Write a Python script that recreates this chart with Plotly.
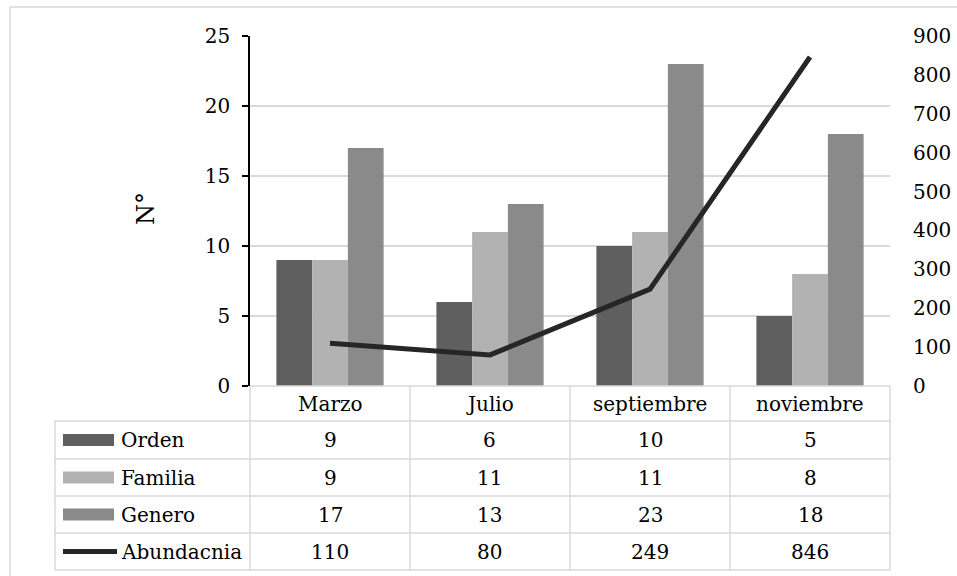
import plotly.graph_objects as go

# Monthly survey counts
months = ["Marzo", "Julio", "septiembre", "noviembre"]
orden = [9, 6, 10, 5]
familia = [9, 11, 11, 8]
genero = [17, 13, 23, 18]
abundancia = [110, 80, 249, 846]

series_names = ["Orden", "Familia", "Genero", "Abundacnia"]
bar_colors = ["#5f5f5f", "#b2b2b2", "#8a8a8a"]
line_color = "#262626"

W, H = 957, 576
FONT = "DejaVu Serif"
FS = 20
GRID = "#d9d9d9"


def px(x):
    return x / W


def py(y):
    return 1 - y / H


# plot area in pixels
PL, PR, PT, PB = 250, 890, 36, 386

fig = go.Figure()
for name, vals, col in zip(series_names[:3], [orden, familia, genero], bar_colors):
    fig.add_trace(go.Bar(x=months, y=vals, name=name, marker_color=col,
                         marker_line_width=0, yaxis="y"))
fig.add_trace(go.Scatter(x=months, y=abundancia, name=series_names[3], mode="lines",
                         line=dict(color=line_color, width=5), yaxis="y2"))

shapes = []
annotations = []

# outer chart frame
shapes.append(dict(type="rect", xref="paper", yref="paper",
                   x0=px(10), x1=px(962), y0=py(7), y1=py(580),
                   line=dict(color=GRID, width=1.5), layer="below"))

# data table below the axis
col_edges = [55, 250, 410, 570, 730, 890]
row_edges = [386, 421, 459, 496, 533, 570]


def hline(x0, x1, y):
    shapes.append(dict(type="line", xref="paper", yref="paper",
                       x0=px(x0), x1=px(x1), y0=py(y), y1=py(y),
                       line=dict(color=GRID, width=1.5)))


def vline(x, y0, y1):
    shapes.append(dict(type="line", xref="paper", yref="paper",
                       x0=px(x), x1=px(x), y0=py(y0), y1=py(y1),
                       line=dict(color=GRID, width=1.5)))


hline(col_edges[1], col_edges[-1], row_edges[0])
for y in row_edges[1:]:
    hline(col_edges[0], col_edges[-1], y)
for x in col_edges[1:]:
    vline(x, row_edges[0], row_edges[-1])
vline(col_edges[0], row_edges[1], row_edges[-1])

# header row with month names
for i, m in enumerate(months):
    cx = (col_edges[i + 1] + col_edges[i + 2]) / 2
    cy = (row_edges[0] + row_edges[1]) / 2
    annotations.append(dict(x=px(cx), y=py(cy), xref="paper", yref="paper", text=m,
                            showarrow=False, xanchor="center", yanchor="middle",
                            font=dict(family=FONT, size=FS, color="#000")))

# value rows with legend keys
rows = [orden, familia, genero, abundancia]
for r, (name, vals) in enumerate(zip(series_names, rows)):
    y0, y1 = row_edges[r + 1], row_edges[r + 2]
    cy = (y0 + y1) / 2
    if r < 3:
        shapes.append(dict(type="rect", xref="paper", yref="paper",
                           x0=px(63), x1=px(114), y0=py(cy - 6), y1=py(cy + 6),
                           fillcolor=bar_colors[r], line=dict(width=0)))
    else:
        shapes.append(dict(type="line", xref="paper", yref="paper",
                           x0=px(63), x1=px(117), y0=py(cy), y1=py(cy),
                           line=dict(color=line_color, width=5)))
    annotations.append(dict(x=px(119), y=py(cy), xref="paper", yref="paper", text=name,
                            showarrow=False, xanchor="left", yanchor="middle",
                            font=dict(family=FONT, size=FS, color="#000")))
    for i, v in enumerate(vals):
        cx = (col_edges[i + 1] + col_edges[i + 2]) / 2
        annotations.append(dict(x=px(cx), y=py(cy), xref="paper", yref="paper", text=str(v),
                                showarrow=False, xanchor="center", yanchor="middle",
                                font=dict(family=FONT, size=FS, color="#000")))

# left axis title
annotations.append(dict(x=px(146), y=py(209), xref="paper", yref="paper", text="N°",
                        showarrow=False, textangle=-90, xanchor="center", yanchor="middle",
                        font=dict(family=FONT, size=24, color="#000")))

fig.update_layout(
    width=W, height=H,
    margin=dict(l=0, r=0, t=0, b=0, autoexpand=False),
    paper_bgcolor="white", plot_bgcolor="white",
    showlegend=False,
    barmode="group", bargap=0.33, bargroupgap=0,
    font=dict(family=FONT, size=FS, color="#000"),
    xaxis=dict(domain=[px(PL), px(PR)], type="category", range=[-0.5, 3.5],
               showticklabels=False, showgrid=False, zeroline=False, showline=False,
               anchor="y"),
    yaxis=dict(domain=[py(PB), py(PT)], range=[0, 25], dtick=5,
               showgrid=True, gridcolor=GRID, gridwidth=1.5, zeroline=False,
               showline=True, linecolor="#000", linewidth=1.5,
               ticks="outside", ticklen=6, tickcolor="#000", tickwidth=1.5,
               ticklabelstandoff=8, tickfont=dict(family=FONT, size=FS)),
    yaxis2=dict(overlaying="y", side="right", anchor="x", range=[0, 900], dtick=100,
                showgrid=False, zeroline=False, showline=False, ticks="",
                ticklabelstandoff=22, tickfont=dict(family=FONT, size=FS)),
    shapes=shapes,
    annotations=annotations,
)

fig.write_html("out.html")
